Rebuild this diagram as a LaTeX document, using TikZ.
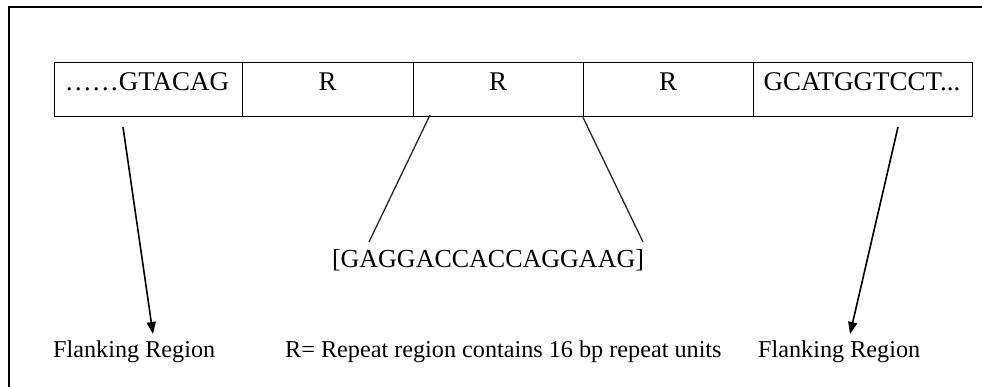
\documentclass[tikz,border=0pt]{standalone}
\usepackage{fontspec}
\setmainfont{Liberation Serif}
\usetikzlibrary{arrows.meta}
\begin{document}
\begin{tikzpicture}[x=1pt,y=-1pt,
  seg/.style={draw, line width=1.4pt, minimum height=54pt, inner sep=0pt, anchor=north west},
  seqtext/.style={anchor=base, inner sep=0pt, font=\fontsize{27}{30}\selectfont},
  unittext/.style={anchor=base, inner sep=0pt, font=\fontsize{26}{30}\selectfont},
  caption/.style={anchor=base west, inner sep=0pt, font=\fontsize{24.2}{28}\selectfont},
  pointer/.style={line width=1.6pt, -{Triangle[length=12pt,width=9pt]}},
  fan/.style={line width=1.3pt, draw=black!85}]
\useasboundingbox (0,0) rectangle (982,387);
% open frame: only left and top edges show
\draw[line width=1.6pt] (9,387) -- (9,7) -- (982,7);
% the sequence strip
\node[seg, minimum width=188pt] (s1) at (54,62) {};
\node[seg, minimum width=171pt] (s2) at (242,62) {};
\node[seg, minimum width=170pt] (s3) at (413,62) {};
\node[seg, minimum width=170pt] (s4) at (583,62) {};
\node[seg, minimum width=219pt] (s5) at (753,62) {};
\node[seqtext] (t1) at (147,91) {……GTACAG};
\node[seqtext] (t2) at (327.5,91) {R};
\node[seqtext] (t3) at (498,91) {R};
\node[seqtext] (t4) at (668,91) {R};
\node[seqtext] (t5) at (862,91) {GCATGGTCCT...};
% repeat unit
\node[unittext] (unit) at (488,268) {[GAGGACCACCAGGAAG]};
% captions
\node[caption] (fl) at (53,357) {Flanking Region};
\node[caption] (rr) at (285,357) {R= Repeat region contains 16 bp repeat units};
\node[caption] (fr) at (758,357) {Flanking Region};
% connector ends
\coordinate (la) at (123,127);
\coordinate (lb) at (153,334);
\coordinate (ra) at (898,127);
\coordinate (rb) at (850,334);
\coordinate (ua) at (430,115);
\coordinate (ub) at (369,242);
\coordinate (uc) at (s4.south west);
\coordinate (ud) at (643,242);
\draw[pointer] (la) -- (lb);
\draw[pointer] (ra) -- (rb);
\draw[fan] (ua) -- (ub);
\draw[fan] (uc) -- (ud);
\end{tikzpicture}
\end{document}
